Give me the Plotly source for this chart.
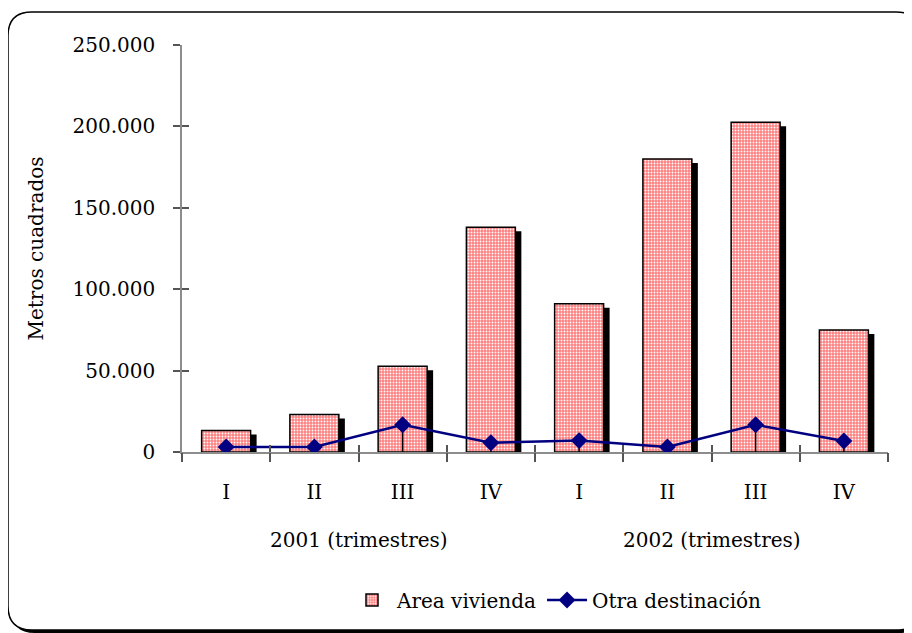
import plotly.graph_objects as go

# ---- data ----
quarters = ["I", "II", "III", "IV", "I", "II", "III", "IV"]
years = ["2001 (trimestres)", "2002 (trimestres)"]
area_vivienda = [13200, 23000, 52600, 138000, 91000, 180000, 202500, 74900]
otra_destinacion = [3100, 3100, 16700, 5700, 7000, 3100, 16700, 6800]
y_ticks = [0, 50000, 100000, 150000, 200000, 250000]
y_ticktext = ["0", "50.000", "100.000", "150.000", "200.000", "250.000"]

FONT = "DejaVu Serif"
FS = 20
idx = list(range(len(quarters)))
bounds = [i - 0.5 for i in range(len(quarters) + 1)]

# page body margin offset (screen px -> figure px)
OFF = 8
W, H = 912, 633
# plot area in screen pixels
SL, SR, ST, SB = 182, 888, 45, 452
L, R, T, B = SL - OFF, SR - OFF, ST - OFF, SB - OFF


def px(x):
    return (x - OFF - L) / (R - L)


def py(y):
    return (B - (y - OFF)) / (B - T)


bar_w = 0.555
shadow_dx = 6 / ((R - L) / len(quarters))
shadow_dy = 4 / ((B - T) / 250000)

fig = go.Figure()

# bar shadows
fig.add_trace(go.Bar(
    x=idx, y=[v - shadow_dy for v in area_vivienda],
    width=bar_w, offset=-bar_w / 2 + shadow_dx,
    marker=dict(color="black", line=dict(width=0)),
    showlegend=False, hoverinfo="skip",
))
# main bars
fig.add_trace(go.Bar(
    x=idx, y=area_vivienda, name="Area vivienda",
    width=bar_w, offset=-bar_w / 2,
    marker=dict(
        color="#ff8a8a",
        line=dict(color="black", width=1.5),
        pattern=dict(shape=".", fgcolor="white", bgcolor="#ff7f7f",
                     size=3, solidity=0.3, fillmode="replace"),
    ),
))
# line
fig.add_trace(go.Scatter(
    x=idx, y=otra_destinacion, name="Otra destinación",
    mode="lines+markers",
    line=dict(color="#000080", width=2.5),
    marker=dict(symbol="diamond", size=13, color="#000080"),
    error_y=dict(type="data", symmetric=False, array=[0] * len(idx),
                 arrayminus=otra_destinacion, color="black",
                 thickness=1.5, width=0),
))
# dummy traces for overlay tick axes
fig.add_trace(go.Scatter(x=[], y=[], xaxis="x2", yaxis="y2",
                         showlegend=False, hoverinfo="skip"))
fig.add_trace(go.Scatter(x=[], y=[], xaxis="x3", yaxis="y2",
                         showlegend=False, hoverinfo="skip"))

tick_col = "#555555"
line_col = "#8c8c8c"


def frame_path(x0, y0, x1, y1, r):
    return (f"M {px(x0 + r)} {py(y0)} L {px(x1 - r)} {py(y0)} "
            f"Q {px(x1)} {py(y0)} {px(x1)} {py(y0 + r)} "
            f"L {px(x1)} {py(y1 - r)} "
            f"Q {px(x1)} {py(y1)} {px(x1 - r)} {py(y1)} "
            f"L {px(x0 + r)} {py(y1)} "
            f"Q {px(x0)} {py(y1)} {px(x0)} {py(y1 - r)} "
            f"L {px(x0)} {py(y0 + r)} "
            f"Q {px(x0)} {py(y0)} {px(x0 + r)} {py(y0)} Z")


shapes = [
    dict(type="path", xref="paper", yref="paper", layer="below",
         path=frame_path(11, 15, 923, 633, 24),
         fillcolor="black", line=dict(width=0)),
    dict(type="path", xref="paper", yref="paper", layer="below",
         path=frame_path(8, 12, 920, 630, 24),
         fillcolor="white", line=dict(color="black", width=1.5)),
]

annotations = [
    dict(x=1.5 + 4 * i, xref="x", y=py(540), yref="paper", text=yr,
         showarrow=False, font=dict(family=FONT, size=FS, color="black"),
         xanchor="center", yanchor="middle")
    for i, yr in enumerate(years)
]

fig.update_layout(
    width=W, height=H,
    margin=dict(l=L, r=W - R, t=T, b=H - B),
    paper_bgcolor="white", plot_bgcolor="rgba(0,0,0,0)",
    barmode="overlay",
    font=dict(family=FONT, size=FS, color="black"),
    shapes=shapes, annotations=annotations,
    showlegend=True,
    legend=dict(orientation="h", x=px(557), xanchor="center",
                y=py(600), yanchor="middle",
                font=dict(family=FONT, size=FS, color="black"),
                bgcolor="rgba(0,0,0,0)", itemwidth=40, tracegroupgap=0),
    xaxis=dict(range=[-0.5, len(quarters) - 0.5], tickmode="array",
               tickvals=idx, ticktext=quarters, ticks="",
               showline=True, linecolor=line_col, linewidth=1.5,
               showgrid=False, zeroline=False, ticklabelstandoff=21,
               fixedrange=True),
    xaxis2=dict(range=[-0.5, len(quarters) - 0.5], overlaying="x",
                anchor="y2", tickmode="array", tickvals=bounds,
                ticks="outside", ticklen=9, tickwidth=1.5,
                tickcolor=tick_col, showticklabels=False,
                showline=False, showgrid=False, zeroline=False),
    xaxis3=dict(range=[-0.5, len(quarters) - 0.5], overlaying="x",
                anchor="y2", tickmode="array", tickvals=bounds,
                ticks="inside", ticklen=7, tickwidth=1.5,
                tickcolor=tick_col, showticklabels=False,
                showline=False, showgrid=False, zeroline=False),
    yaxis=dict(range=[0, 250000], tickmode="array", tickvals=y_ticks,
               ticktext=y_ticktext, ticks="outside", ticklen=7,
               tickwidth=1.5, tickcolor=tick_col,
               showline=True, linecolor=line_col, linewidth=1.5,
               showgrid=False, zeroline=False, ticklabelstandoff=14,
               title=dict(text="Metros cuadrados", standoff=24,
                          font=dict(family=FONT, size=FS))),
    yaxis2=dict(range=[0, 250000], overlaying="y", anchor="x",
                tickmode="array", tickvals=y_ticks, ticks="inside",
                ticklen=7, tickwidth=1.5, tickcolor=tick_col,
                showticklabels=False, showline=False, showgrid=False,
                zeroline=False),
)

fig.write_html("out.html")
